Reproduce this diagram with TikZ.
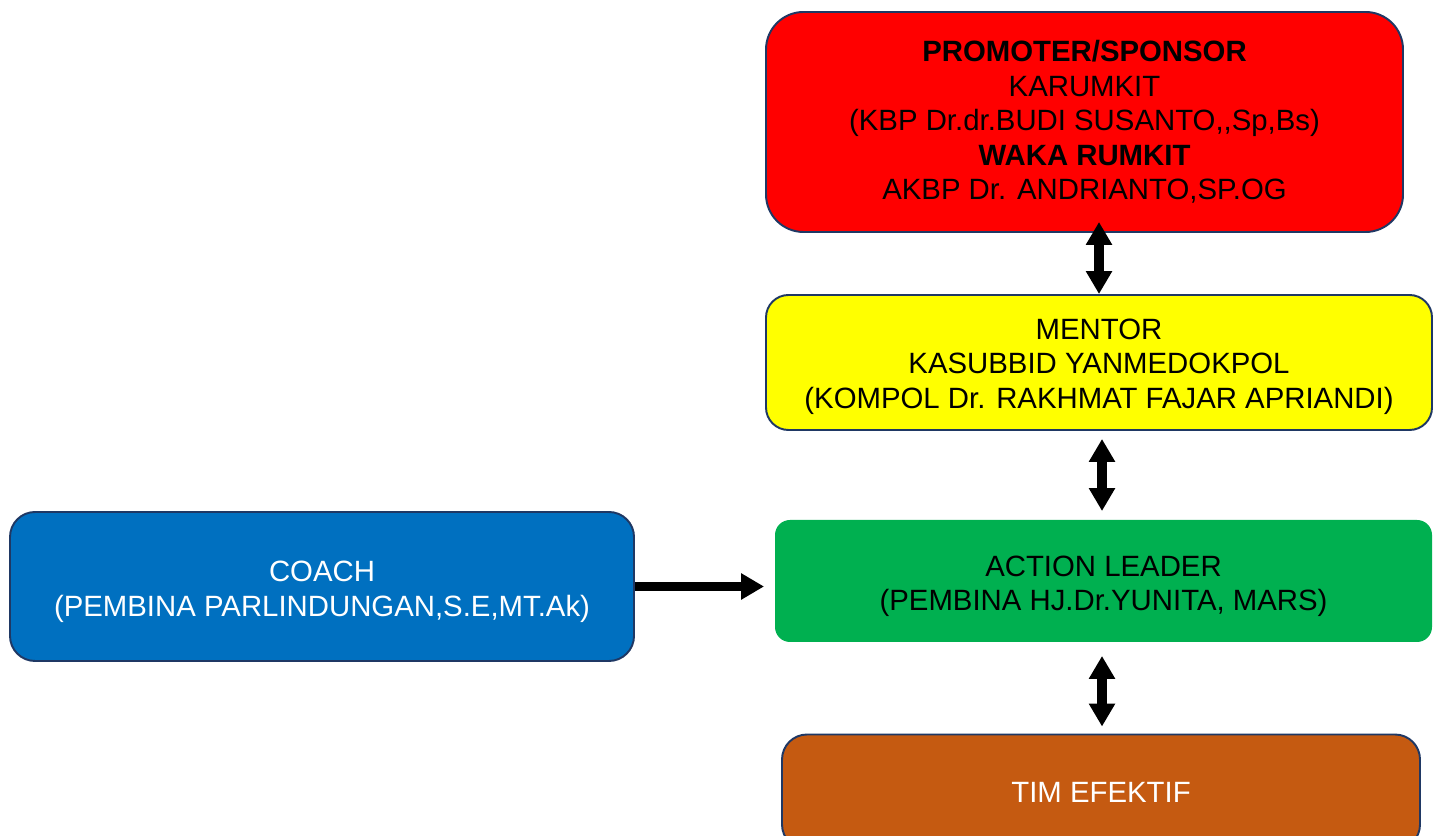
\documentclass[tikz,border=0pt]{standalone}
\usepackage{fontspec}
\setmainfont{Liberation Sans}
\usetikzlibrary{positioning,arrows.meta}

\definecolor{boxline}{HTML}{1F3864}
\definecolor{promred}{HTML}{FF0000}
\definecolor{mentyellow}{HTML}{FFFF00}
\definecolor{leadgreen}{HTML}{00B050}
\definecolor{coachblue}{HTML}{0070C0}
\definecolor{timbrown}{HTML}{C55A11}

\newcommand{\topstrut}[1]{\rule{0pt}{#1}}

\tikzset{
  box/.style={draw=boxline, line width=1.1pt, align=center, inner sep=0pt,
    font=\fontsize{16.7}{19.6}\selectfont},
  link/.style={line width=0.19cm, -{Triangle[width=0.5cm,length=0.46cm]}},
  link2/.style={line width=0.19cm, {Triangle[width=0.5cm,length=0.46cm]}-{Triangle[width=0.5cm,length=0.46cm]}}
}

\begin{document}
\begin{tikzpicture}
  \clip (0,0) rectangle (28.76,16.72);
  \fill[white] (0,0) rectangle (28.76,16.72);

  \node[box, fill=promred, rounded corners=0.75cm, minimum width=12.74cm, minimum height=4.4cm] (promoter) at (21.69,14.28) {\textbf{PROMOTER/SPONSOR}\\KARUMKIT\\(KBP Dr.dr.BUDI SUSANTO,\kern0pt,Sp,Bs)\\\textbf{WAKA RUMKIT}\\AKBP Dr. ANDRIANTO,SP.OG};
  \node[box, fill=mentyellow, rounded corners=0.45cm, minimum width=13.32cm, minimum height=2.7cm] (mentor) at (21.98,9.47) {\topstrut{0.58cm}MENTOR\\KASUBBID YANMEDOKPOL\\(KOMPOL Dr. RAKHMAT FAJAR APRIANDI)};
  \node[box, draw=none, fill=leadgreen, rounded corners=0.3cm, minimum width=13.14cm, minimum height=2.44cm] (leader) at (22.07,5.1) {\topstrut{0.62cm}ACTION LEADER\\(PEMBINA HJ.Dr.YUNITA, MARS)};
  \node[box, fill=coachblue, text=white, rounded corners=0.5cm, minimum width=12.48cm, minimum height=2.98cm] (coach) at (6.44,4.99) {\topstrut{0.62cm}COACH\\(PEMBINA PARLINDUNGAN,S.E,MT.Ak)};
  \node[box, fill=timbrown, text=white, rounded corners=0.5cm, minimum width=12.76cm, minimum height=2.3cm] (tim) at (22.02,0.88) {TIM EFEKTIF};

  % connectors
  \draw[link2, shorten <=-0.22cm] (promoter.south -| mentor.north) -- (mentor.north);
  \draw[link2, shorten <=0.16cm, shorten >=0.16cm] ([xshift=0.06cm]mentor.south) -- ([xshift=0.06cm]mentor.south |- leader.north);
  \draw[link2, shorten <=0.26cm, shorten >=0.14cm] ([xshift=-0.03cm]leader.south) -- ([xshift=-0.03cm]leader.south |- tim.north);
  \draw[link, shorten >=0.2cm] (coach.east) -- (coach.east -| leader.west);
\end{tikzpicture}
\end{document}
